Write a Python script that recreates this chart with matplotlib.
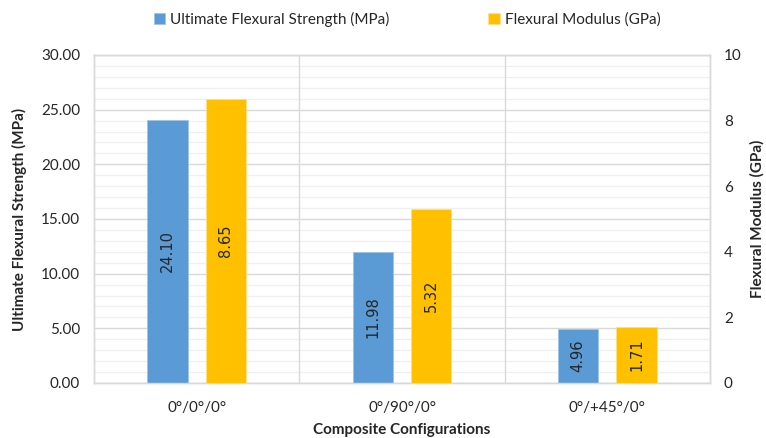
import matplotlib
matplotlib.use("Agg")
import matplotlib.pyplot as plt
import numpy as np
from matplotlib.ticker import MultipleLocator, FormatStrFormatter

categories = ["0°/0°/0°", "0°/90°/0°", "0°/+45°/0°"]
strength = [24.10, 11.98, 4.96]
modulus = [8.65, 5.32, 1.71]
strength_ticks = [0, 5, 10, 15, 20, 25, 30]
modulus_ticks = [0, 2, 4, 6, 8, 10]

blue = "#5B9BD5"
orange = "#FFC000"
grid_major = "#D9D9D9"
grid_minor = "#F0F0F0"
txt = "#262626"
font = "Lato"

fig = plt.figure(figsize=(7.66, 4.38), dpi=100)
ax = fig.add_axes([94/766, 1-383/438, (710-94)/766, (383-55)/438])
ax2 = ax.twinx()

x = np.arange(len(categories))
w = 0.195
off = 0.142
b1 = ax.bar(x - off, strength, w, color=blue, zorder=3, edgecolor="#9DC3E6", linewidth=0.5)
b2 = ax2.bar(x + off, modulus, w, color=orange, zorder=3, edgecolor="#FFE08A", linewidth=0.5)

ax.set_xlim(-0.5, len(categories) - 0.5)
ax.set_ylim(0, 30)
ax2.set_ylim(0, 10)
ax.set_yticks(strength_ticks)
ax2.set_yticks(modulus_ticks)
ax.yaxis.set_major_formatter(FormatStrFormatter("%.2f"))
ax.yaxis.set_minor_locator(MultipleLocator(1))

ax.grid(axis="y", which="major", color=grid_major, linewidth=1.0, zorder=0)
ax.grid(axis="y", which="minor", color=grid_minor, linewidth=1.0, zorder=0)
ax.set_axisbelow(True)
for xv in [0.5, 1.5]:
    ax.axvline(xv, color=grid_major, linewidth=1.0, zorder=1)

for a in (ax, ax2):
    for s in a.spines.values():
        s.set_color(grid_major)
        s.set_linewidth(1.0)
    a.tick_params(which="both", length=0, labelsize=11, colors=txt)
    for lab in a.get_yticklabels():
        lab.set_fontfamily(font)

ax.set_xticks(x)
ax.set_xticklabels(categories, fontfamily=font, fontsize=11, color=txt)
ax.tick_params(axis="x", pad=13)
ax.tick_params(axis="y", pad=10)
ax2.tick_params(axis="y", pad=10)

ax.set_ylabel("Ultimate Flexural Strength (MPa)", fontfamily=font, fontweight="bold",
              fontsize=11, color=txt, labelpad=10)
ax2.set_ylabel("Flexural Modulus (GPa)", fontfamily=font, fontweight="bold",
               fontsize=11, color=txt, rotation=90, labelpad=6)
ax.set_xlabel("Composite Configurations", fontfamily=font, fontweight="bold",
              fontsize=11, color=txt, labelpad=6)

for xi, v in zip(x, strength):
    ax.text(xi - off, v / 2, f"{v:.2f}", rotation=90, ha="center", va="center",
            fontsize=10.5, color=txt, zorder=5, fontfamily="DejaVu Sans")
for xi, v in zip(x, modulus):
    ax2.text(xi + off, v / 2, f"{v:.2f}", rotation=90, ha="center", va="center",
             fontsize=10.5, color=txt, zorder=5, fontfamily="DejaVu Sans")

leg = fig.legend([b1, b2], ["Ultimate Flexural Strength (MPa)", "Flexural Modulus (GPa)"],
                 loc="center", bbox_to_anchor=(407/766, 1-19/438), ncol=2, frameon=False,
                 prop={"family": font, "size": 11}, handlelength=0.75, handleheight=0.75,
                 handletextpad=0.3, columnspacing=6.5)
for t in leg.get_texts():
    t.set_color(txt)

fig.savefig("out.png", dpi=100)
